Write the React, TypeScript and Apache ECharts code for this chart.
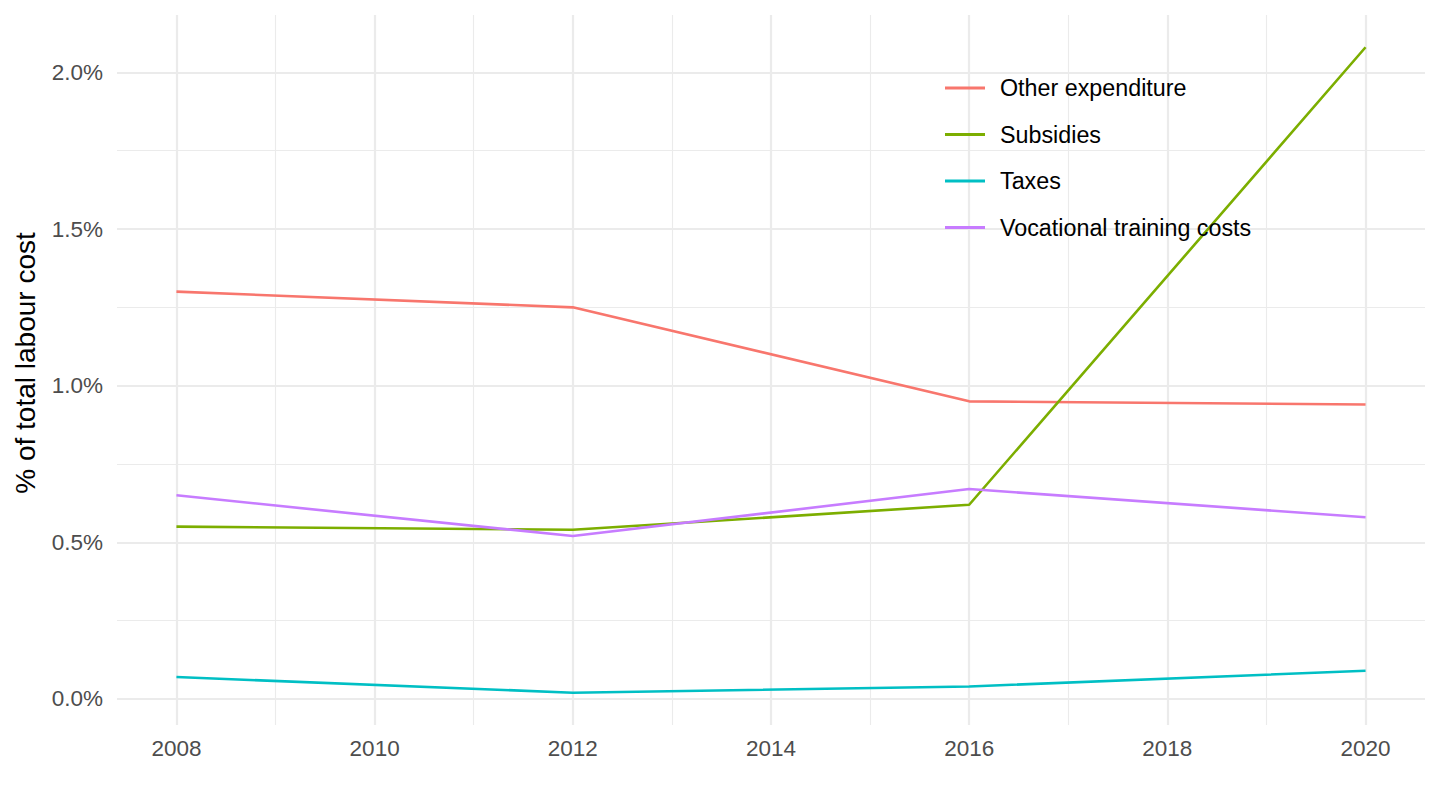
import React, { useEffect, useRef } from 'react';
import * as echarts from 'echarts';

const years = [2008, 2012, 2016, 2020];
const otherExpenditure = [1.30, 1.25, 0.95, 0.94];
const subsidies = [0.55, 0.54, 0.62, 2.08];
const taxes = [0.07, 0.02, 0.04, 0.09];
const vocationalTraining = [0.65, 0.52, 0.67, 0.58];

const seriesNames = ['Other expenditure', 'Subsidies', 'Taxes', 'Vocational training costs'];
const seriesValues = [otherExpenditure, subsidies, taxes, vocationalTraining];
const colors = ['#F8766D', '#7CAE00', '#00BFC4', '#C77CFF'];

const xMajor = [2008, 2010, 2012, 2014, 2016, 2018, 2020];
const xMinor = [2009, 2011, 2013, 2015, 2017, 2019];
const yMajor = [0, 0.5, 1, 1.5, 2];
const yMinor = [0.25, 0.75, 1.25, 1.75];

const FONT = '"Liberation Sans", Arial, Helvetica, sans-serif';
const GRID = '#EBEBEB';

const App: React.FC = () => {
    const chartRef = useRef<HTMLDivElement>(null);

    useEffect(() => {
        document.body.style.margin = '0';
        if (!chartRef.current) return;
        const myChart = echarts.init(chartRef.current, null, { renderer: 'svg' });

        // ggplot-like grid: minor lines thin, major lines thicker
        const gridLines = [
            ...xMinor.map((v) => ({ xAxis: v, lineStyle: { width: 1.1 } })),
            ...yMinor.map((v) => ({ yAxis: v, lineStyle: { width: 1.1 } })),
            ...xMajor.map((v) => ({ xAxis: v, lineStyle: { width: 2.2 } })),
            ...yMajor.map((v) => ({ yAxis: v, lineStyle: { width: 2.2 } })),
        ];

        const option = {
            animation: false,
            textStyle: { fontFamily: FONT },
            grid: {
                left: 117,
                right: 15,
                top: 15,
                bottom: 85,
                containLabel: false,
                outerBoundsMode: 'none',
            },
            legend: {
                orient: 'vertical',
                left: 940,
                top: 71,
                z: 10,
                icon: 'rect',
                itemWidth: 40,
                itemHeight: 3,
                itemGap: 22.5,
                data: seriesNames,
                textStyle: {
                    fontFamily: FONT,
                    fontSize: 23.3,
                    color: '#000000',
                    lineHeight: 24,
                    padding: [0, 0, 0, 10],
                },
            },
            xAxis: {
                type: 'value',
                min: 2007.4,
                max: 2020.6,
                axisLine: { show: false },
                axisTick: { show: false },
                splitLine: { show: false },
                axisLabel: {
                    customValues: xMajor,
                    color: '#4D4D4D',
                    fontSize: 22.5,
                    margin: 12,
                    formatter: (v: number) => String(v),
                },
            },
            yAxis: {
                type: 'value',
                min: -0.083,
                max: 2.183,
                name: '% of total labour cost',
                nameLocation: 'middle',
                nameGap: 78,
                nameTextStyle: {
                    fontSize: 28,
                    color: '#000000',
                    fontFamily: FONT,
                    padding: [0, 0, 0, 14],
                },
                axisLine: { show: false },
                axisTick: { show: false },
                splitLine: { show: false },
                axisLabel: {
                    customValues: yMajor,
                    color: '#4D4D4D',
                    fontSize: 22.5,
                    margin: 14,
                    formatter: (v: number) => v.toFixed(1) + '%',
                },
            },
            series: [
                {
                    name: '__grid',
                    type: 'line',
                    z: 1,
                    data: [],
                    silent: true,
                    markLine: {
                        z: 1,
                        silent: true,
                        symbol: ['none', 'none'],
                        label: { show: false },
                        emphasis: { disabled: true },
                        lineStyle: { color: GRID, type: 'solid' },
                        data: gridLines,
                    },
                },
                ...seriesNames.map((name, i) => ({
                    name,
                    type: 'line',
                    z: 3,
                    data: years.map((y, j) => [y, seriesValues[i][j]]),
                    showSymbol: false,
                    symbol: 'none',
                    color: colors[i],
                    lineStyle: { color: colors[i], width: 2.6 },
                })),
            ],
        };

        myChart.setOption(option);
        return () => {
            myChart.dispose();
        };
    }, []);

    return <div ref={chartRef} style={{ width: '1440px', height: '810px' }} />;
};

export default App;
